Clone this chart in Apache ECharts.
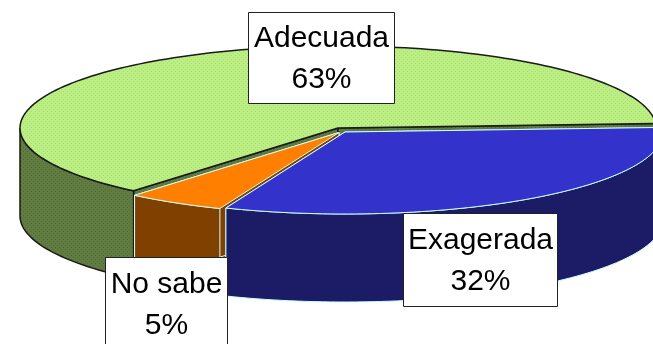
<!DOCTYPE html>
<html><head><meta charset="utf-8">
<style>html,body{margin:0;padding:0;background:#fff}#c{width:653px;height:344px}</style>
<script src="https://cdn.jsdelivr.net/npm/echarts@6/dist/echarts.min.js"></script>
</head><body><div id="c"></div>
<script>
const categories = ['Adecuada', 'Exagerada', 'No sabe'];
const shares = [63, 32, 5];

function dots(base, dot) {
  const c = document.createElement('canvas');
  c.width = c.height = 4;
  const g = c.getContext('2d');
  g.fillStyle = base; g.fillRect(0, 0, 4, 4);
  g.fillStyle = dot; g.fillRect(1, 1, 1, 1); g.fillRect(3, 3, 1, 1);
  return {image: c, repeat: 'repeat'};
}
const sliceLook = {
  'Adecuada': {top:dots('#bbef84', '#a6dc70'), side:dots('#617c41', '#4f6a36'), line:'#1a1a1a', width:1.5, cx:338, cy:128, z:1},
  'Exagerada': {top:'#3333cc', side:'#1c1c66', line:'#ccffff', width:1, cx:345, cy:132, z:3},
  'No sabe': {top:'#ff8000', side:'#804000', line:'#ccffff', width:1, cx:339, cy:132.5, z:2}
};
const labelBox = {
  'Adecuada': {x:248, y:12, w:146, h:91},
  'Exagerada': {x:403, y:213, w:154, h:93},
  'No sabe': {x:105, y:257, w:122, h:92}
};
const RX = 318, RY = 82, DEPTH = 88, FIRST_ANGLE = 130;
const total = shares.reduce((a, b) => a + b, 0);

function rim(s, deg, drop) {
  const t = deg * Math.PI / 180;
  return [s.cx + RX * Math.cos(t), s.cy + RY * Math.sin(t) + (drop || 0)];
}
function arc(s, a0, a1, drop) {
  const pts = [], n = Math.max(2, Math.ceil(Math.abs(a1 - a0) / 1.5));
  for (let i = 0; i <= n; i++) pts.push(rim(s, a0 + (a1 - a0) * i / n, drop));
  return pts;
}
function renderSlice(params, api) {
  const idx = params.dataIndex;
  const name = categories[idx];
  const value = api.value(1);
  let before = 0;
  for (let i = 0; i < idx; i++) before += shares[i];
  const a0 = FIRST_ANGLE + before / total * 360;
  const a1 = a0 + value / total * 360;
  const s = sliceLook[name], z = s.z;
  const apex = [s.cx, s.cy];
  const apexLow = [s.cx, s.cy + DEPTH];
  const stroke = {stroke: s.line, lineWidth: s.width, fill: s.side};
  const kids = [];
  // cut faces
  [a0, a1].forEach(a => {
    const p = rim(s, a), q = rim(s, a, DEPTH);
    kids.push({type:'polygon', z2:z, shape:{points:[apex, p, q, apexLow]}, style:stroke});
  });
  // outer wall: the visible front half of the rim, in either turn of the circle
  [[0, 180], [360, 540]].forEach(r => {
    const w0 = Math.max(a0, r[0]), w1 = Math.min(a1, r[1]);
    if (w1 > w0) {
      const pts = arc(s, w0, w1, 0).concat(arc(s, w1, w0, DEPTH));
      kids.push({type:'polygon', z2:z, shape:{points:pts}, style:stroke});
    }
  });
  // top
  kids.push({type:'polygon', z2:z, shape:{points:[apex].concat(arc(s, a0, a1, 0))},
    style:{fill:s.top, stroke:s.line, lineWidth:s.width}});
  // label
  const b = labelBox[name];
  kids.push({type:'rect', z2:50, shape:{x:b.x + .5, y:b.y + .5, width:b.w, height:b.h},
    style:{fill:'#fff', stroke:'#222', lineWidth:1}});
  kids.push({type:'text', z2:51, x:b.x + b.w / 2 + .5, y:b.y + b.h / 2 + 2,
    style:{text:name + '\n' + value + '%', fill:'#000', font:'30px "Liberation Sans", Arial, sans-serif',
      lineHeight:41, align:'center', verticalAlign:'middle'}});
  return {type:'group', children:kids};
}
const chart = echarts.init(document.getElementById('c'), null, {renderer:'canvas'});
chart.setOption({
  animation:false,
  backgroundColor:'#fff',
  series:[{type:'custom', coordinateSystem:'none', silent:true, clip:false,
    data:categories.map((c, i) => [c, shares[i]]),
    dimensions:['name', 'share'],
    renderItem:renderSlice}]
});
</script></body></html>
